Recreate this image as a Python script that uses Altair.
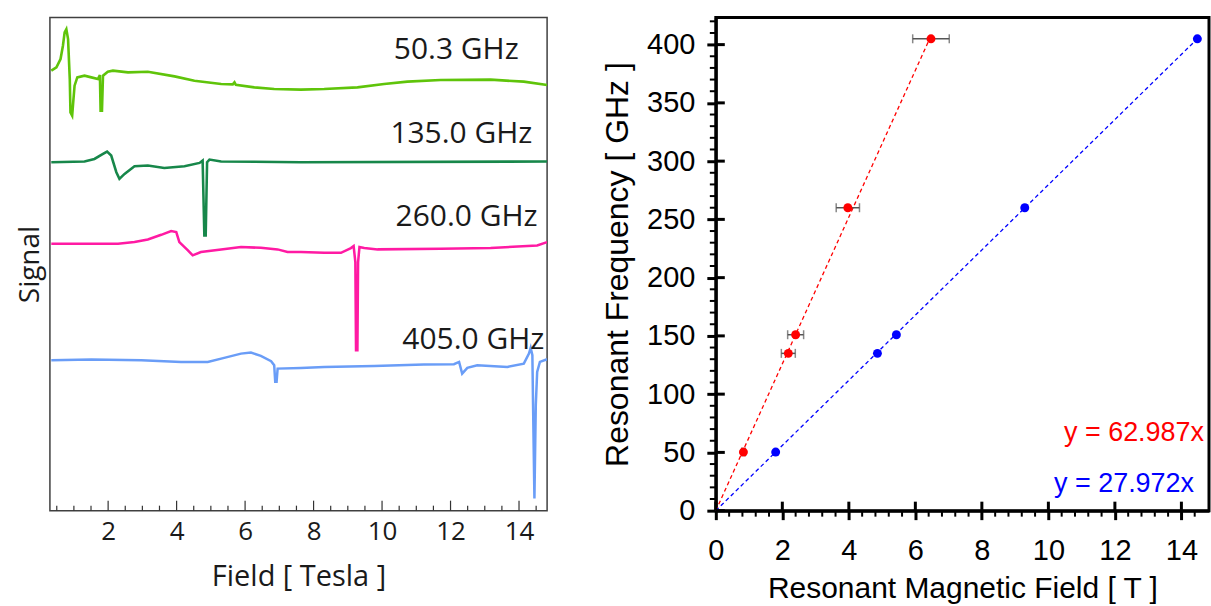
import altair as alt
import pandas as pd

# ---------------- Left panel: spectra (field in T, signal in arbitrary units) ----------------
trace_names = ["50.3 GHz", "135.0 GHz", "260.0 GHz", "405.0 GHz"]
trace_colors = ["#5fc40a", "#17874a", "#ff1aa3", "#6a9df7"]
trace_widths = [2.6, 2.5, 2.5, 3.2]

g50_t = [0.34, 0.49, 0.61, 0.68, 0.73, 0.78, 0.83, 0.88, 0.90, 0.95, 0.98, 1.02, 1.10, 1.31,
         1.51, 1.70, 1.76, 1.78, 1.82, 1.85, 1.99, 2.14, 2.58, 3.16, 3.94, 4.52, 5.30, 5.64,
         5.69, 5.73, 6.27, 6.85, 7.63, 8.31, 9.28, 10.06, 10.74, 11.71, 13.17, 14.14, 14.82]
g50_s = [440.7, 444.0, 452.3, 465.7, 479.0, 482.3, 472.3, 432.3, 399.0, 395.7, 409.0, 425.7,
         434.0, 435.7, 434.0, 432.3, 436.3, 400.7, 400.7, 435.7, 439.7, 440.7, 439.0, 439.7,
         435.0, 430.7, 427.3, 427.0, 429.0, 426.5, 424.0, 422.3, 421.7, 422.3, 424.0, 427.3,
         429.7, 431.3, 431.7, 429.7, 426.3]

g135_t = [0.34, 1.31, 1.60, 1.85, 1.97, 2.09, 2.24, 2.33, 2.48, 2.77, 3.16, 3.64, 4.23, 4.67,
          4.76, 4.81, 4.85, 4.89, 4.96, 5.30, 7.63, 14.82]
g135_s = [349.0, 349.7, 352.3, 357.3, 359.7, 355.7, 339.0, 332.3, 337.3, 345.0, 345.7, 343.3,
          345.0, 348.3, 350.7, 275.7, 275.7, 349.0, 351.7, 349.7, 349.0, 349.7]

p260_t = [0.34, 2.29, 2.77, 3.16, 3.55, 3.84, 3.99, 4.08, 4.33, 4.47, 4.71, 5.30, 5.88, 6.46,
          6.95, 7.24, 7.63, 8.31, 8.80, 9.09, 9.17, 9.22, 9.24, 9.28, 9.30, 9.34, 9.48, 9.87,
          11.71, 13.17, 14.53, 14.82]
p260_s = [267.3, 267.3, 269.0, 271.7, 276.3, 280.0, 279.0, 269.0, 260.7, 255.7, 259.0, 261.7,
          264.0, 263.3, 261.7, 259.0, 259.0, 258.3, 258.3, 263.0, 265.0, 249.0, 160.7, 160.7,
          249.0, 264.0, 263.0, 261.7, 262.3, 263.0, 265.7, 269.0]

b405_t = [0.34, 1.51, 2.97, 4.13, 4.91, 5.39, 5.88, 6.17, 6.46, 6.76, 6.85, 6.88, 6.92, 6.95,
          7.63, 8.31, 9.77, 11.22, 12.10, 12.25, 12.34, 12.49, 12.78, 13.66, 14.14, 14.29,
          14.34, 14.39, 14.41, 14.45, 14.49, 14.53, 14.61, 14.82]
b405_s = [150.7, 151.3, 150.7, 149.0, 149.0, 153.0, 157.3, 158.3, 155.0, 149.7, 145.7, 129.0,
          129.0, 142.3, 143.0, 144.0, 145.0, 146.3, 146.7, 149.0, 137.3, 143.0, 145.7, 144.0,
          147.3, 157.3, 163.0, 155.7, 105.7, 12.3, 105.7, 139.0, 149.0, 151.7]

label_t = [13.99, 14.39, 14.54, 14.74]
label_s = [461.0, 377.3, 294.0, 170.7]

left_major = [2, 4, 6, 8, 10, 12, 14]
left_minor = [v / 2 for v in range(1, 30) if v % 4 != 0]

# ---------------- Right panel: resonance positions ----------------
freq = [50.3, 135.0, 151.0, 260.0, 405.0]
field_red = [0.83, 2.18, 2.40, 3.97, 6.47]
field_red_err = [0.05, 0.21, 0.24, 0.35, 0.55]
field_blue = [1.80, 4.86, 5.43, 9.29, 14.48]

fit_names = ["red", "blue"]
fit_slopes = [62.987, 27.972]
fit_x_end = [6.43, 14.48]
fit_texts = ["y = 62.987x", "y = 27.972x"]
fit_text_x = [14.68, 14.38]
fit_text_y = [67.0, 23.0]

right_major_x = [0, 2, 4, 6, 8, 10, 12, 14]
right_minor_x = [round(v * 0.4, 1) for v in range(1, 37) if v % 5 != 0]
right_major_y = [0, 50, 100, 150, 200, 250, 300, 350, 400]
right_minor_y = [v for v in range(10, 421, 10) if v % 50 != 0]

# ---------------- build tables ----------------
rows = []
for name, ts, ss in zip(trace_names, [g50_t, g135_t, p260_t, b405_t], [g50_s, g135_s, p260_s, b405_s]):
    for i, (t, s) in enumerate(zip(ts, ss)):
        rows.append({"trace": name, "i": i, "field": t, "signal": s})
traces = pd.DataFrame(rows)
labels_df = pd.DataFrame({"label": trace_names, "t": label_t, "s": label_s})

pts = pd.DataFrame(
    [{"series": "red", "f": f, "b": b} for f, b in zip(freq, field_red)]
    + [{"series": "blue", "f": f, "b": b} for f, b in zip(freq, field_blue)]
)
err = pd.DataFrame({
    "f": freq,
    "lo": [b - e for b, e in zip(field_red, field_red_err)],
    "hi": [b + e for b, e in zip(field_red, field_red_err)],
})
err_caps = pd.DataFrame({"f": freq * 2, "b": err["lo"].tolist() + err["hi"].tolist()})
fit_rows = []
for n, s, xe in zip(fit_names, fit_slopes, fit_x_end):
    fit_rows.append({"series": n, "i": 0, "b": 0.0, "f": 0.0})
    fit_rows.append({"series": n, "i": 1, "b": xe, "f": s * xe})
fits = pd.DataFrame(fit_rows)
eq_df = pd.DataFrame({"series": fit_names, "text": fit_texts, "b": fit_text_x, "f": fit_text_y})

# ---------------- left chart ----------------
W1, H1 = 498, 494
xs1 = alt.Scale(domain=[0.3, 14.82], nice=False, zero=False)
ys1 = alt.Scale(domain=[0, 494], nice=False, zero=False)
FONT1 = "Open Sans"
ax_x1 = alt.Axis(values=left_major, ticks=False, domain=False, grid=False,
                 labelFont=FONT1, labelFontSize=26, labelColor="#1a1a1a", labelPadding=8,
                 title="Field [ Tesla ]", titleFont=FONT1, titleFontSize=29,
                 titleFontWeight="normal", titleColor="#1a1a1a", titlePadding=18)
ax_y1 = alt.Axis(labels=False, ticks=False, domain=False, grid=False,
                 title="Signal", titleFont=FONT1, titleFontSize=28,
                 titleFontWeight="normal", titleColor="#1a1a1a", titlePadding=5)

lines = alt.Chart(traces).mark_line(clip=True).encode(
    x=alt.X("field:Q", scale=xs1, axis=ax_x1),
    y=alt.Y("signal:Q", scale=ys1, axis=ax_y1),
    color=alt.Color("trace:N", scale=alt.Scale(domain=trace_names, range=trace_colors), legend=None),
    strokeWidth=alt.StrokeWidth("trace:N", scale=alt.Scale(domain=trace_names, range=trace_widths),
                                legend=None),
    order="i:Q",
)
labs = alt.Chart(labels_df).mark_text(align="right", baseline="middle", font=FONT1,
                                      fontSize=30, color="#1a1a1a").encode(
    x=alt.X("t:Q", scale=xs1, axis=ax_x1),
    y=alt.Y("s:Q", scale=ys1, axis=ax_y1),
    text="label:N",
)
tick_maj1 = alt.Chart(pd.DataFrame({"t": left_major})).mark_rule(color="#333333", strokeWidth=1.2).encode(
    x=alt.X("t:Q", scale=xs1, axis=ax_x1), y=alt.value(H1), y2=alt.value(H1 - 10))
tick_min1 = alt.Chart(pd.DataFrame({"t": left_minor})).mark_rule(color="#333333", strokeWidth=1.2).encode(
    x=alt.X("t:Q", scale=xs1, axis=ax_x1), y=alt.value(H1), y2=alt.value(H1 - 5))

left = alt.layer(lines, labs, tick_maj1, tick_min1).properties(
    width=W1, height=H1, view=alt.ViewBackground(stroke="#404040", strokeWidth=1.5))

# ---------------- right chart ----------------
W2, H2 = 494, 494
xs2 = alt.Scale(domain=[0, 14.83], nice=False, zero=False)
ys2 = alt.Scale(domain=[0, 423.3], nice=False, zero=False)
FONT2 = "Liberation Sans"
common2 = dict(tickSize=9, tickWidth=3, tickColor="black", domainColor="black", domainWidth=3,
               grid=False, labelFont=FONT2, labelFontSize=29, labelColor="black",
               titleFont=FONT2, titleFontWeight="normal", titleColor="black",
               labelFlush=False)
ax_x2 = alt.Axis(values=right_major_x, labelPadding=17, title="Resonant Magnetic Field [ T ]",
                 titleFontSize=30, titlePadding=8, **common2)
ax_y2 = alt.Axis(values=right_major_y, labelPadding=12, title="Resonant Frequency [ GHz ]",
                 titleFontSize=32, titlePadding=12, **common2)
ser_scale = alt.Scale(domain=fit_names, range=["#ff0000", "#0000ff"])

fit_lines = alt.Chart(fits).mark_line(strokeWidth=1.3, strokeDash=[4, 3]).encode(
    x=alt.X("b:Q", scale=xs2, axis=ax_x2), y=alt.Y("f:Q", scale=ys2, axis=ax_y2),
    color=alt.Color("series:N", scale=ser_scale, legend=None), order="i:Q")
err_bars = alt.Chart(err).mark_rule(color="#555555", strokeWidth=1.5).encode(
    x=alt.X("lo:Q", scale=xs2, axis=ax_x2), x2="hi:Q", y=alt.Y("f:Q", scale=ys2, axis=ax_y2))
err_tick = alt.Chart(err_caps).mark_tick(color="#555555", orient="vertical", size=9, thickness=1.5).encode(
    x=alt.X("b:Q", scale=xs2, axis=ax_x2), y=alt.Y("f:Q", scale=ys2, axis=ax_y2))
points = alt.Chart(pts).mark_circle(size=80, opacity=1).encode(
    x=alt.X("b:Q", scale=xs2, axis=ax_x2), y=alt.Y("f:Q", scale=ys2, axis=ax_y2),
    color=alt.Color("series:N", scale=ser_scale, legend=None))
eqs = alt.Chart(eq_df).mark_text(align="right", baseline="middle", font=FONT2, fontSize=27).encode(
    x=alt.X("b:Q", scale=xs2, axis=ax_x2), y=alt.Y("f:Q", scale=ys2, axis=ax_y2),
    text="text:N", color=alt.Color("series:N", scale=ser_scale, legend=None))
minx = alt.Chart(pd.DataFrame({"b": right_minor_x})).mark_rule(color="black", strokeWidth=2).encode(
    x=alt.X("b:Q", scale=xs2, axis=ax_x2), y=alt.value(H2), y2=alt.value(H2 + 6))
majx = alt.Chart(pd.DataFrame({"b": right_major_x})).mark_rule(color="black", strokeWidth=3).encode(
    x=alt.X("b:Q", scale=xs2, axis=ax_x2), y=alt.value(H2), y2=alt.value(H2 - 9))
miny = alt.Chart(pd.DataFrame({"f": right_minor_y})).mark_rule(color="black", strokeWidth=2).encode(
    y=alt.Y("f:Q", scale=ys2, axis=ax_y2), x=alt.value(0), x2=alt.value(-6))
majy = alt.Chart(pd.DataFrame({"f": right_major_y})).mark_rule(color="black", strokeWidth=3).encode(
    y=alt.Y("f:Q", scale=ys2, axis=ax_y2), x=alt.value(0), x2=alt.value(9))

right = alt.layer(fit_lines, err_bars, err_tick, points, eqs, minx, majx, miny, majy).properties(
    width=W2, height=H2, view=alt.ViewBackground(stroke="black", strokeWidth=3))

chart = alt.hconcat(left, right, spacing=52).resolve_scale(color="independent", strokeWidth="independent").properties(
    padding={"left": 16, "top": 15, "right": 0, "bottom": 0},
    background="white",
)

chart.save("out.html", embed_options={"renderer": "svg", "actions": False})
